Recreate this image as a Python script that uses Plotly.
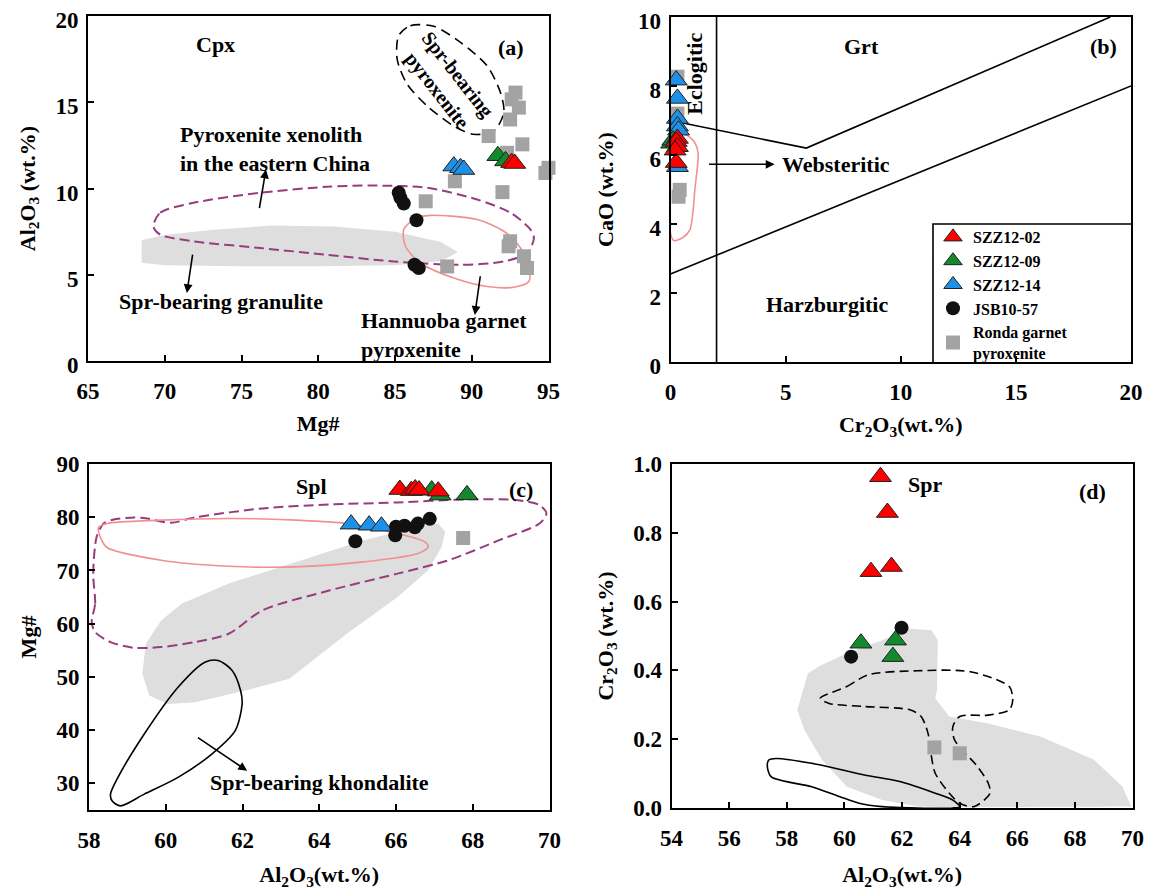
import plotly.graph_objects as go

FONT = "Liberation Serif, Times New Roman, serif"
RED, GREEN, BLUE = "#FF0000", "#13892E", "#1E90E6"
GRAY, FILL = "#A3A3A3", "#DEDEDE"
PURPLE, PINK = "#973C7E", "#F29090"

# ---------------- Panel (a): Mg# vs Al2O3 (Cpx) ----------------
a_ronda_x = [91.1, 92.85, 92.6, 93.07, 92.5, 93.3, 92.3, 94.8, 95.0, 88.9, 92.0, 87.0, 92.5, 92.4, 93.4, 93.6, 88.4]
a_ronda_y = [13.04, 15.56, 15.17, 14.69, 14.0, 12.56, 12.07, 10.9, 11.2, 10.42, 9.79, 9.26, 6.94, 6.65, 6.07, 5.39, 5.48]
a_s14_x = [88.83, 89.27, 89.48]
a_s14_y = [11.3, 11.2, 11.1]
a_s09_x = [91.7, 92.2]
a_s09_y = [11.9, 11.6]
a_s02_x = [92.6, 92.8]
a_s02_y = [11.5, 11.45]
a_jsb_x = [85.24, 85.35, 85.57, 86.4, 86.27, 86.55]
a_jsb_y = [9.75, 9.46, 9.13, 8.16, 5.58, 5.39]

a_gran_x = [68.5, 70, 73, 77, 81, 85, 88, 89.1, 88, 85, 80, 75, 70, 68.5]
a_gran_y = [7.0, 7.3, 7.6, 7.85, 7.8, 7.5, 6.9, 6.3, 5.8, 5.55, 5.5, 5.5, 5.55, 5.7]
a_china_x = [69.26, 69.70, 71.87, 76.22, 80.57, 83.83, 87.09, 90.36, 92.53, 93.83, 94.05, 93.62, 92.09, 89.27, 84.92, 80.57, 76.22, 71.87, 69.70, 69.26]
a_china_y = [7.81, 8.59, 9.17, 9.75, 10.1, 10.17, 10.04, 9.36, 8.59, 7.62, 7.13, 6.26, 5.77, 5.58, 5.77, 6.16, 6.55, 6.94, 7.33, 7.81]
a_hann_x = [85.57, 86.22, 87.09, 90.36, 92.09, 93.18, 93.72, 93.72, 92.74, 91.0, 88.83, 86.66, 85.68, 85.57]
a_hann_y = [7.62, 8.2, 8.43, 8.2, 7.52, 6.55, 5.48, 4.61, 4.28, 4.32, 4.81, 5.68, 6.65, 7.62]
a_sprpx_x = [85.24, 86.0, 87.52, 89.27, 91.0, 91.87, 92.09, 91.44, 90.13, 88.83, 87.09, 85.79, 85.14, 85.24]
a_sprpx_y = [18.86, 19.44, 19.4, 18.47, 17.11, 15.56, 14.4, 13.33, 13.14, 13.62, 14.79, 16.05, 17.5, 18.86]

# ---------------- Panel (b): Cr2O3 vs CaO (Grt) ----------------
b_s14_x = [0.25, 0.3, 0.3, 0.3, 0.35, 0.3]
b_s14_y = [8.17, 7.64, 7.06, 6.84, 6.72, 5.66]
b_s09_x = [0.05, 0.1]
b_s09_y = [6.34, 6.43]
b_s02_x = [0.3, 0.25, 0.3, 0.2, 0.25]
b_s02_y = [6.48, 6.39, 6.24, 6.14, 5.78]
b_ronda_x = [0.3, 0.3, 0.4, 0.35]
b_ronda_y = [8.27, 7.2, 4.99, 4.79]

b_ecl_x = [2, 2]
b_ecl_y = [0, 10]
b_upper_x = [0, 5.9, 19.1]
b_upper_y = [7.0, 6.2, 10.0]
b_lower_x = [0, 20]
b_lower_y = [2.55, 8.0]
b_box_x = [11.4, 11.4, 20]
b_box_y = [0, 4.0, 4.0]
b_web_x = [0.08, 0.69, 1.07, 1.2, 1.07, 0.84, 0.54, 0.15, 0.0, 0.0, 0.0, 0.08]
b_web_y = [6.63, 6.58, 6.34, 6.05, 5.08, 3.83, 3.61, 3.52, 3.73, 5.08, 6.43, 6.63]

# ---------------- Panel (c): Al2O3 vs Mg# (Spl) ----------------
c_s02_x = [66.1, 66.4, 66.5, 66.6, 67.1]
c_s02_y = [85.2, 85.0, 85.3, 85.1, 84.9]
c_s09_x = [66.93, 67.15, 67.85]
c_s09_y = [85.1, 84.16, 84.2]
c_s14_x = [64.83, 65.3, 65.62]
c_s14_y = [78.7, 78.5, 78.3]
c_jsb_x = [64.94, 65.98, 66.0, 66.22, 66.49, 66.57, 66.88]
c_jsb_y = [75.5, 76.6, 78.2, 78.4, 78.1, 78.8, 79.7]
c_ronda_x = [67.75]
c_ronda_y = [76.1]

c_china_x = [58.07, 58.16, 58.11, 58.2, 58.38, 58.64, 59.17, 59.52, 60.14, 60.76, 62.52, 64.28, 66.04, 67.81, 69.13, 69.74, 69.92, 69.74, 68.69, 67.37, 66.04, 64.28, 62.52, 61.64, 60.76, 59.88, 59.17, 58.56, 58.16, 58.07]
c_china_y = [60.31, 63.76, 69.41, 76.32, 78.83, 79.58, 79.96, 79.77, 78.95, 79.96, 81.65, 82.40, 82.78, 83.35, 83.22, 82.28, 80.71, 78.83, 75.69, 71.92, 69.41, 66.27, 62.50, 58.11, 56.54, 55.60, 55.47, 56.54, 58.42, 60.31]
c_hann_x = [58.25, 58.47, 59.88, 61.64, 63.40, 64.72, 66.04, 66.75, 66.84, 66.57, 65.16, 63.40, 61.64, 59.88, 58.47, 58.33, 58.25]
c_hann_y = [78.07, 78.83, 79.45, 79.77, 79.45, 78.83, 76.94, 75.37, 74.43, 73.18, 71.61, 70.67, 70.79, 71.92, 74.31, 75.69, 78.07]
c_gran_x = [59.39, 59.48, 59.88, 60.41, 61.64, 63.40, 65.16, 66.48, 67.10, 67.28, 67.19, 66.84, 66.04, 64.72, 63.22, 62.08, 60.76, 60.05, 59.57]
c_gran_y = [50.58, 56.23, 60.62, 63.76, 67.53, 71.61, 75.69, 78.07, 78.83, 77.26, 74.43, 70.04, 65.02, 58.11, 49.64, 47.44, 45.24, 44.93, 46.50]
c_khon_x = [58.56, 58.73, 59.44, 60.32, 61.02, 61.37, 61.73, 61.95, 61.99, 61.81, 61.20, 60.32, 59.44, 58.82, 58.60, 58.56]
c_khon_y = [27.98, 30.80, 39.28, 48.07, 52.77, 53.09, 51.21, 47.44, 44.93, 39.91, 35.51, 31.12, 27.98, 25.78, 26.72, 27.98]

# ---------------- Panel (d): Al2O3 vs Cr2O3 (Spr) ----------------
d_s02_x = [61.25, 61.49, 60.92, 61.63]
d_s02_y = [0.963, 0.859, 0.687, 0.702]
d_s09_x = [60.57, 61.77, 61.68]
d_s09_y = [0.479, 0.488, 0.44]
d_jsb_x = [60.23, 61.98]
d_jsb_y = [0.44, 0.524]
d_ronda_x = [63.12, 64.0]
d_ronda_y = [0.176, 0.159]

d_gran_x = [58.36, 58.73, 59.10, 60.08, 61.31, 62.17, 63.02, 63.24, 63.21, 63.15, 63.64, 64.99, 66.82, 68.66, 69.65, 69.95, 63.76, 62.53, 61.31, 60.08, 59.22, 58.61]
d_gran_y = [0.285, 0.391, 0.411, 0.450, 0.488, 0.522, 0.517, 0.488, 0.343, 0.319, 0.266, 0.246, 0.207, 0.140, 0.062, 0.004, 0.002, 0.004, 0.023, 0.062, 0.140, 0.227]
d_sprpx_x = [59.16, 60.08, 60.82, 62.53, 64.37, 65.72, 65.84, 65.72, 64.99, 64.0, 63.76, 63.82, 64.62, 64.99, 65.05, 64.50, 64.0, 63.64, 63.15, 63.0, 62.90, 62.66, 62.29, 60.69, 59.47, 59.16]
d_sprpx_y = [0.319, 0.353, 0.387, 0.399, 0.396, 0.353, 0.314, 0.285, 0.270, 0.266, 0.236, 0.198, 0.120, 0.072, 0.043, 0.004, 0.014, 0.043, 0.101, 0.159, 0.217, 0.266, 0.285, 0.295, 0.304, 0.319]
d_khon_x = [57.38, 57.63, 58.86, 60.69, 61.92, 63.15, 63.76, 64.0, 63.76, 62.53, 61.31, 60.51, 59.84, 58.86, 57.45, 57.32, 57.38]
d_khon_y = [0.140, 0.144, 0.130, 0.096, 0.077, 0.043, 0.023, 0.004, 0.0, 0.0, 0.004, 0.014, 0.033, 0.062, 0.091, 0.126, 0.140]

fig = go.Figure()
AX = [("x", "y"), ("x2", "y2"), ("x3", "y3"), ("x4", "y4")]


def fill(xs, ys, p):
    fig.add_trace(go.Scatter(x=xs, y=ys, mode="lines", fill="toself", fillcolor=FILL,
                             line=dict(width=0, color=FILL), hoverinfo="skip", showlegend=False,
                             xaxis=AX[p][0], yaxis=AX[p][1]))


def outline(xs, ys, p, color, dash="solid", width=1.6, shape="spline"):
    fig.add_trace(go.Scatter(x=xs, y=ys, mode="lines",
                             line=dict(width=width, color=color, dash=dash, shape=shape, smoothing=0.8),
                             hoverinfo="skip", showlegend=False, xaxis=AX[p][0], yaxis=AX[p][1]))


def pts(xs, ys, p, kind, legend=False):
    spec = {
        "s02": ("SZZ12-02", "triangle-up", RED, 19, 1),
        "s09": ("SZZ12-09", "triangle-up", GREEN, 19, 2),
        "s14": ("SZZ12-14", "triangle-up", BLUE, 19, 3),
        "jsb": ("JSB10-57", "circle", "#111111", 14, 4),
        "ronda": ("Ronda garnet<br>pyroxenite", "square", GRAY, 14, 5),
    }[kind]
    name, sym, col, size, rank = spec
    lw = 1 if sym == "triangle-up" else 0
    fig.add_trace(go.Scatter(x=xs, y=ys, mode="markers", name=name, legendgroup=kind,
                             legendrank=rank, showlegend=legend, cliponaxis=False,
                             marker=dict(symbol=sym, color=col, size=size,
                                         line=dict(color="#202020", width=lw)),
                             xaxis=AX[p][0], yaxis=AX[p][1]))


# panel a
fill(a_gran_x, a_gran_y, 0)
outline(a_china_x, a_china_y, 0, PURPLE, dash="10px,5px", width=2)
outline(a_hann_x, a_hann_y, 0, PINK)
outline(a_sprpx_x, a_sprpx_y, 0, "black", dash="10px,6px")
pts(a_ronda_x, a_ronda_y, 0, "ronda", True)
pts(a_s14_x, a_s14_y, 0, "s14", True)
pts(a_jsb_x, a_jsb_y, 0, "jsb", True)
pts(a_s09_x, a_s09_y, 0, "s09", True)
pts(a_s02_x, a_s02_y, 0, "s02", True)

# panel b
for lx, ly in [(b_ecl_x, b_ecl_y), (b_upper_x, b_upper_y), (b_lower_x, b_lower_y), (b_box_x, b_box_y)]:
    outline(lx, ly, 1, "black", width=1.6, shape="linear")
outline(b_web_x, b_web_y, 1, PINK)
pts(b_ronda_x, b_ronda_y, 1, "ronda")
pts(b_s14_x, b_s14_y, 1, "s14")
pts(b_s09_x, b_s09_y, 1, "s09")
pts(b_s02_x, b_s02_y, 1, "s02")

# panel c
fill(c_gran_x, c_gran_y, 2)
outline(c_china_x, c_china_y, 2, PURPLE, dash="10px,5px", width=2)
outline(c_hann_x, c_hann_y, 2, PINK)
outline(c_khon_x, c_khon_y, 2, "black")
pts(c_ronda_x, c_ronda_y, 2, "ronda")
pts(c_s14_x, c_s14_y, 2, "s14")
pts(c_jsb_x, c_jsb_y, 2, "jsb")
pts(c_s09_x, c_s09_y, 2, "s09")
pts(c_s02_x, c_s02_y, 2, "s02")

# panel d
fill(d_gran_x, d_gran_y, 3)
outline(d_sprpx_x, d_sprpx_y, 3, "black", dash="9px,5px")
outline(d_khon_x, d_khon_y, 3, "black")
pts(d_ronda_x, d_ronda_y, 3, "ronda")
pts(d_jsb_x, d_jsb_y, 3, "jsb")
pts(d_s09_x, d_s09_y, 3, "s09")
pts(d_s02_x, d_s02_y, 3, "s02")


def f(size):
    return dict(family=FONT, size=size, color="black", weight="bold")


# page body adds an 8px offset; figure sized to fit the window
W, H = 1145, 882


def dx(p0, p1):
    return [(p0 - 8) / W, (p1 - 8) / W]


def dy(top, bottom):
    return [1 - (bottom - 8) / H, 1 - (top - 8) / H]


def axis(domain, rng, dtick, anchor, title, standoff, fmt=None, lab=3, shift=0):
    d = dict(domain=domain, range=rng, dtick=dtick, anchor=anchor, showline=True, linewidth=2,
             linecolor="black", mirror=True, ticks="inside", ticklen=6, tickwidth=1.5,
             tickcolor="black", showgrid=False, zeroline=False, tickfont=f(23),
             title=dict(text=title, font=f(22), standoff=standoff), automargin=False,
             ticklabelstandoff=lab, ticklabeloverflow="allow", ticklabelshift=shift)
    if fmt:
        d["tickformat"] = fmt
    return d


AL = "Al<sub>2</sub>O<sub>3</sub>"
CR = "Cr<sub>2</sub>O<sub>3</sub>"

fig.update_layout(
    width=W, height=H, margin=dict(l=0, r=0, t=0, b=0),
    paper_bgcolor="white", plot_bgcolor="white",
    xaxis=axis(dx(88, 548.5), [65, 95], 5, "y", "Mg#", 13, lab=8),
    yaxis=axis(dy(16, 361), [0, 20], 5, "x", AL + " (wt.%)", 14, shift=4),
    xaxis2=axis(dx(670.5, 1131), [0, 20], 5, "y2", CR + "(wt.%)", 13, lab=8),
    yaxis2=axis(dy(17, 362), [0, 10], 2, "x2", "CaO (wt.%)", 18, shift=4),
    xaxis3=axis(dx(89, 549.5), [58, 70], 2, "y3", AL + "(wt.%)", 18, lab=8),
    yaxis3=axis(dy(464, 810), [25, 90], 10, "x3", "Mg#", 14),
    xaxis4=axis(dx(671.6, 1132.6), [54, 70], 2, "y4", AL + "(wt.%)", 18, lab=8),
    yaxis4=axis(dy(464, 808), [0, 1], 0.2, "x4", CR + " (wt.%)", 14, fmt=".1f"),
    legend=dict(x=925 / W, y=1 - 212 / H, xanchor="left", yanchor="top", bgcolor="rgba(0,0,0,0)",
                borderwidth=0, font=f(16), tracegroupgap=0, itemsizing="trace"),
    showlegend=True,
)


def txt(x, y, s, p, size=22, angle=0, xanchor="center", align="center"):
    return dict(x=x, y=y, text=s, xref=AX[p][0], yref=AX[p][1], showarrow=False,
                font=f(size), textangle=angle, xanchor=xanchor, align=align)


def arrow(tx, ty, hx, hy, p):
    return dict(x=hx, y=hy, ax=tx, ay=ty, xref=AX[p][0], yref=AX[p][1], axref=AX[p][0],
                ayref=AX[p][1], text="", showarrow=True, arrowhead=2, arrowsize=1.1,
                arrowwidth=1.6, arrowcolor="black", standoff=0, startstandoff=0)


ann = [
    txt(73.28, 18.37, "Cpx", 0),
    txt(92.53, 18.2, "(a)", 0),
    txt(88.4, 16.15, "Spr-bearing<br>pyroxenite", 0, size=20, angle=52),
    txt(70.89, 12.27, "Pyroxenite xenolith<br>in the eastern China", 0, xanchor="left", align="left"),
    txt(66.87, 3.43, "Spr-bearing granulite", 0, xanchor="left"),
    txt(82.63, 1.51, "Hannuoba garnet<br>pyroxenite", 0, xanchor="left", align="left"),
    arrow(76.15, 8.77, 76.59, 11.1, 0),
    arrow(71.83, 6.26, 71.44, 3.94, 0),
    arrow(90.57, 5.0, 90.2, 2.67, 0),
    txt(8.31, 9.14, "Grt", 1),
    txt(18.82, 9.14, "(b)", 1),
    txt(1.04, 8.37, "Eclogitic", 1, angle=-90),
    txt(4.75, 5.73, "Websteritic", 1, xanchor="left"),
    txt(6.79, 1.68, "Harzburgitic", 1),
    arrow(1.61, 5.73, 4.52, 5.73, 1),
    txt(63.8, 85.73, "Spl", 2),
    txt(69.26, 85.23, "(c)", 2),
    txt(61.11, 30.18, "Spr-bearing khondalite", 2, xanchor="left"),
    arrow(60.8, 38.78, 62.12, 32.37, 2),
    txt(62.78, 0.939, "Spr", 3),
    txt(68.6, 0.92, "(d)", 3),
]
fig.update_layout(annotations=ann)

fig.write_html("out.html")
